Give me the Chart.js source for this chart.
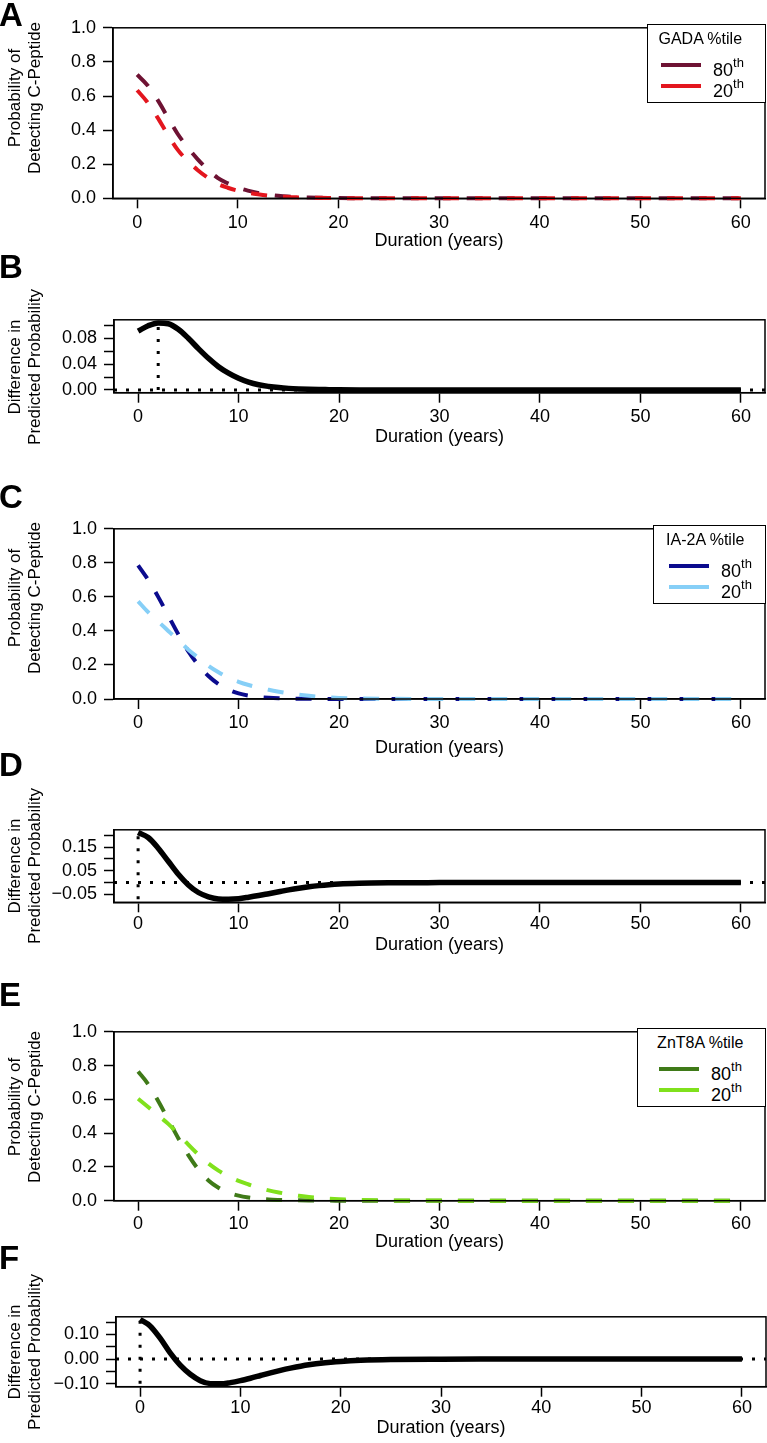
<!DOCTYPE html>
<html>
<head>
<meta charset="utf-8">
<script src="https://cdn.jsdelivr.net/npm/chart.js@4.4.1/dist/chart.umd.min.js"></script>
<style>
html,body{margin:0;padding:0;background:#fff;}
#wrap{position:relative;width:767px;height:1443px;overflow:hidden;font-family:"Liberation Sans",Arial,Helvetica,sans-serif;color:#000;}
#wrap canvas{position:absolute;left:0;}
.letter{position:absolute;left:-1px;font-weight:bold;font-size:33px;line-height:30px;}
.ylab{position:absolute;left:25px;white-space:nowrap;text-align:center;font-size:17px;line-height:20px;transform:translate(-50%,-50%) rotate(-90deg);}
.legend{position:absolute;box-sizing:border-box;border:1.5px solid #000;background:#fff;height:79px;}
.legend .ttl{position:absolute;left:0;width:100%;top:4px;text-align:center;font-size:16px;line-height:20px;white-space:nowrap;}
.legend .ln{position:absolute;height:4px;width:40px;}
.legend .tx{position:absolute;font-size:18px;line-height:20px;white-space:nowrap;}
.legend .tx span{font-size:13px;position:relative;top:-9px;}
</style>
</head>
<body>
<div id="wrap"></div>
<script>
// ---------------- data ----------------
const years = [0,1,2,3,4,5,6,7,8,9,10,11,12,13,14,15,16,17,18,19,20,22,25,30,35,40,45,50,55,60];

const gada80 = [0.725,0.665,0.58,0.48,0.38,0.30,0.23,0.17,0.12,0.088,0.063,0.045,0.032,0.022,0.015,0.010,0.007,0.0048,0.0033,0.0023,0.0016,0.0008,0.0003,0.0001,0,0,0,0,0,0];
const gada20 = [0.634,0.565,0.476,0.378,0.287,0.22,0.166,0.121,0.084,0.062,0.045,0.033,0.024,0.0165,0.0113,0.0075,0.0053,0.0037,0.0026,0.0018,0.0013,0.0007,0.0003,0.0001,0,0,0,0,0,0];
const gadaDiff = [0.091,0.0995,0.1038,0.1025,0.094,0.08,0.064,0.049,0.036,0.026,0.018,0.012,0.008,0.0055,0.0037,0.0025,0.0017,0.0011,0.0007,0.0005,0.0003,0.0001,0.00005,0,0,0,0,0,0,0];

const ia80 = [0.785,0.70,0.60,0.49,0.38,0.28,0.20,0.135,0.088,0.055,0.033,0.02,0.012,0.007,0.004,0.0025,0.0015,0.001,0.0006,0.0004,0.0002,0.0001,0,0,0,0,0,0,0,0];
const ia20 = [0.574,0.51,0.455,0.40,0.345,0.29,0.242,0.195,0.157,0.125,0.101,0.082,0.067,0.054,0.043,0.0335,0.0255,0.019,0.0136,0.0094,0.0062,0.0031,0.0012,0.0003,0,0,0,0,0,0];
const iaDiff = [0.211,0.19,0.145,0.09,0.035,-0.01,-0.042,-0.06,-0.069,-0.07,-0.068,-0.062,-0.055,-0.047,-0.039,-0.031,-0.024,-0.018,-0.013,-0.009,-0.006,-0.003,-0.0012,-0.0003,0,0,0,0,0,0];

const znt80 = [0.765,0.69,0.59,0.48,0.37,0.27,0.185,0.12,0.077,0.048,0.03,0.019,0.012,0.007,0.0045,0.003,0.002,0.0013,0.0008,0.0005,0.0003,0.0001,0,0,0,0,0,0,0,0];
const znt20 = [0.604,0.555,0.505,0.455,0.395,0.332,0.273,0.22,0.178,0.144,0.117,0.096,0.077,0.061,0.0485,0.038,0.029,0.0223,0.0168,0.0125,0.0093,0.0051,0.002,0.0005,0.0001,0,0,0,0,0];
const zntDiff = [0.161,0.135,0.085,0.025,-0.025,-0.062,-0.088,-0.1,-0.101,-0.096,-0.088,-0.078,-0.067,-0.056,-0.046,-0.037,-0.029,-0.0225,-0.017,-0.0128,-0.0095,-0.0052,-0.002,-0.0005,-0.0001,0,0,0,0,0];

const xRange = [-2.4, 62.4];
const xTicks = [0,10,20,30,40,50,60];
const xTickLabels = ['0','10','20','30','40','50','60'];

const probRange = [0, 1];
const probTicks = [0,0.2,0.4,0.6,0.8,1.0];
const probTickLabels = ['0.0','0.2','0.4','0.6','0.8','1.0'];

const gadaDiffRange = [-0.0042, 0.1086];
const gadaDiffTicks = [0,0.02,0.04,0.06,0.08,0.10];
const gadaDiffTickLabels = ['0.00','','0.04','','0.08',''];

const iaDiffRange = [-0.0834, 0.2227];
const iaDiffTicks = [-0.05,0,0.05,0.10,0.15,0.20];
const iaDiffTickLabels = ['\u22120.05','','0.05','','0.15',''];

const zntDiffRange = [-0.1125, 0.172];
const zntDiffTicks = [-0.10,-0.05,0,0.05,0.10,0.15];
const zntDiffTickLabels = ['\u22120.10','','0.00','','0.10',''];

const seriesLabels = ['80', '20'];
const legendTitles = ['GADA %tile', 'IA-2A %tile', 'ZnT8A %tile'];
const panelLetters = ['A','B','C','D','E','F'];
const probTitle = ['Probability of', 'Detecting C-Peptide'];
const diffTitle = ['Difference in', 'Predicted Probability'];
const xTitle = 'Duration (years)';

// ---------------- styling / layout ----------------
const FONT = '"Liberation Sans", Arial, Helvetica, sans-serif';
Chart.defaults.font.family = FONT;
Chart.defaults.color = '#000';

const colors = {
  gada80:'#6E1233', gada20:'#E3161E',
  ia80:'#0B0B8E', ia20:'#86CFF7',
  znt80:'#3F7A18', znt20:'#80E11C'
};

const wrap = document.getElementById('wrap');

const boxPlugin = {
  id:'box',
  afterDraw(chart){
    const a = chart.chartArea, c = chart.ctx;
    c.save(); c.strokeStyle = '#000'; c.lineWidth = 1.5;
    c.strokeRect(a.left, a.top, a.right - a.left, a.bottom - a.top);
    c.restore();
  }
};

function pts(xs, ys){ return xs.map((x,i)=>({x:x, y:ys[i]})); }

function makePanel(p){
  const padTopMin = 14;
  const canvasTop = Math.floor(p.boxTop) - padTopMin;
  const padTop = p.boxTop - canvasTop;
  const boxH = p.boxBottom - p.boxTop;
  const canvasH = Math.ceil(padTop + boxH + p.xAxisH + 2);
  const padBottom = canvasH - padTop - boxH - p.xAxisH;
  const cv = document.createElement('canvas');
  cv.width = 767; cv.height = canvasH;
  cv.style.top = canvasTop + 'px';
  cv.style.width = '767px'; cv.style.height = canvasH + 'px';
  wrap.appendChild(cv);

  new Chart(cv.getContext('2d'), {
    type:'line',
    data:{datasets:p.datasets},
    options:{
      responsive:false, animation:false, devicePixelRatio:1,
      events:[],
      layout:{padding:{top:padTop, bottom:padBottom, left:0, right:767 - p.boxRight}},
      plugins:{legend:{display:false}, tooltip:{enabled:false}},
      elements:{point:{radius:0}, line:{cubicInterpolationMode:'monotone', borderCapStyle:'butt'}},
      scales:{
        x:{
          type:'linear', min:xRange[0], max:xRange[1],
          afterBuildTicks:(s)=>{ s.ticks = xTicks.map(v=>({value:v})); },
          afterFit:(s)=>{ s.height = p.xAxisH; },
          grid:{display:true, drawOnChartArea:false, drawTicks:true, tickLength:10, tickWidth:1.5, tickColor:'#000', color:'#000'},
          border:{display:true, color:'#000', width:1.5},
          ticks:{color:'#000', font:{size:18}, padding:p.xTickPad, maxRotation:0, minRotation:0, autoSkip:false,
                 callback:(v,i)=>xTickLabels[i]},
          title:{display:true, text:xTitle, color:'#000', font:{size:18}, padding:{top:0,bottom:0}}
        },
        y:{
          type:'linear', min:p.yRange[0], max:p.yRange[1],
          afterBuildTicks:(s)=>{ s.ticks = p.yTicks.map(v=>({value:v})); },
          afterFit:(s)=>{ s.width = p.boxLeft; },
          grid:{display:true, drawOnChartArea:false, drawTicks:true, tickLength:10, tickWidth:1.5, tickColor:'#000', color:'#000'},
          border:{display:true, color:'#000', width:1.5},
          ticks:{color:'#000', font:{size:18}, padding:7, autoSkip:false,
                 callback:(v,i)=>p.yTickLabels[i]},
          title:{display:false}
        }
      }
    },
    plugins:[boxPlugin]
  });
}

function dashed(data, color, order){
  return {data:pts(years, data), borderColor:color, borderWidth:4, borderDash:[16,16], fill:false, clip:false, order:order};
}
function diffSets(diff){
  let imax = 0, vmin = diff[0];
  diff.forEach((v,i)=>{ if(v > diff[imax]) imax = i; if(v < vmin) vmin = v; });
  const vmax = diff[imax];
  return [
    {data:pts(years, diff), borderColor:'#000', borderWidth:5.5, fill:false, clip:false, order:0},
    {data:[{x:xRange[0], y:0},{x:xRange[1], y:0}], borderColor:'#000', borderWidth:3, borderDash:[3,9], fill:false, clip:false, order:1, cubicInterpolationMode:'default', tension:0},
    {data:[{x:years[imax], y:Math.min(0, vmin)},{x:years[imax], y:vmax}], borderColor:'#000', borderWidth:3, borderDash:[3,9], fill:false, clip:false, order:2, cubicInterpolationMode:'default', tension:0}
  ];
}

const panels = [
  {boxTop:24.3, boxBottom:198.3, boxLeft:113, boxRight:765, xAxisH:54, xTickPad:3.5,
   yRange:probRange, yTicks:probTicks, yTickLabels:probTickLabels,
   datasets:[dashed(gada80, colors.gada80, 1), dashed(gada20, colors.gada20, 0)]},
  {boxTop:316.7, boxBottom:392.7, boxLeft:114, boxRight:765, xAxisH:55, xTickPad:3.2,
   yRange:gadaDiffRange, yTicks:gadaDiffTicks, yTickLabels:gadaDiffTickLabels,
   datasets:diffSets(gadaDiff)},
  {boxTop:525, boxBottom:699, boxLeft:114, boxRight:765, xAxisH:60, xTickPad:2.9,
   yRange:probRange, yTicks:probTicks, yTickLabels:probTickLabels,
   datasets:[dashed(ia80, colors.ia80, 1), dashed(ia20, colors.ia20, 0)]},
  {boxTop:826.7, boxBottom:902.3, boxLeft:114, boxRight:765, xAxisH:53.5, xTickPad:1.3,
   yRange:iaDiffRange, yTicks:iaDiffTicks, yTickLabels:iaDiffTickLabels,
   datasets:diffSets(iaDiff)},
  {boxTop:1028.3, boxBottom:1200.7, boxLeft:114, boxRight:765, xAxisH:52, xTickPad:2.9,
   yRange:probRange, yTicks:probTicks, yTickLabels:probTickLabels,
   datasets:[dashed(znt80, colors.znt80, 1), dashed(znt20, colors.znt20, 0)]},
  {boxTop:1313.3, boxBottom:1386.7, boxLeft:116, boxRight:766, xAxisH:52.4, xTickPad:0.9,
   yRange:zntDiffRange, yTicks:zntDiffTicks, yTickLabels:zntDiffTickLabels,
   datasets:diffSets(zntDiff)}
];
panels.forEach(makePanel);

// ---------------- text overlays ----------------
const letterTops = [0, 252, 482, 750, 980, 1243];
panelLetters.forEach((t,i)=>{
  const d = document.createElement('div'); d.className='letter'; d.textContent=t;
  d.style.top = letterTops[i] + 'px'; wrap.appendChild(d);
});
const ylabCenters = [98, 367, 598, 866, 1107, 1352];
ylabCenters.forEach((cy,i)=>{
  const d = document.createElement('div'); d.className='ylab';
  const lines = (i % 2 === 0) ? probTitle : diffTitle;
  d.innerHTML = lines[0] + '<br>' + lines[1];
  d.style.top = cy + 'px'; wrap.appendChild(d);
});

const legends = [
  {left:647, top:24.3, rowX:13, titleShift:-6, c:[colors.gada80, colors.gada20]},
  {left:653, top:525, rowX:15, titleShift:-4, c:[colors.ia80, colors.ia20]},
  {left:637, top:1028.3, rowX:21, titleShift:-1, c:[colors.znt80, colors.znt20]}
];
legends.forEach((L,i)=>{
  const d = document.createElement('div'); d.className='legend';
  d.style.left = L.left + 'px'; d.style.top = L.top + 'px'; d.style.width = (765.5 - L.left) + 'px';
  let h = '<div class="ttl" style="left:' + L.titleShift + 'px">' + legendTitles[i] + '</div>';
  [40, 61].forEach((ry,k)=>{
    h += '<div class="ln" style="left:' + L.rowX + 'px;top:' + (ry - 2) + 'px;background:' + L.c[k] + '"></div>';
    h += '<div class="tx" style="left:' + (L.rowX + 52) + 'px;top:' + (ry - 5) + 'px">' + seriesLabels[k] + '<span>th</span></div>';
  });
  d.innerHTML = h; wrap.appendChild(d);
});
</script>
</body>
</html>
